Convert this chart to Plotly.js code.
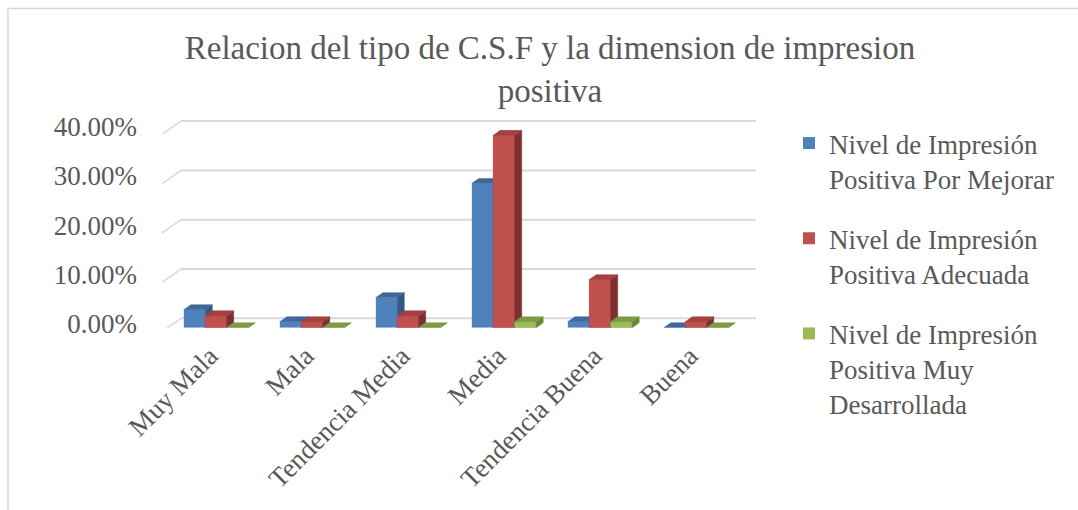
<!DOCTYPE html>
<html>
<head>
<meta charset="utf-8">
<script src="https://cdn.plot.ly/plotly-3.0.1.min.js"></script>
<style>
html,body{margin:0;padding:0;background:#fff;}
#chart{width:1078px;height:510px;}
</style>
</head>
<body>
<div id="chart"></div>
<script>
const categories = ['Muy Mala', 'Mala', 'Tendencia Media', 'Media', 'Tendencia Buena', 'Buena'];
const seriesNames = [
  'Nivel de Impresión<br>Positiva Por Mejorar',
  'Nivel de Impresión<br>Positiva Adecuada',
  'Nivel de Impresión<br>Positiva Muy<br>Desarrollada'
];
const porMejorar = [3.66, 1.22, 6.10, 29.27, 1.22, 0];
const adecuada = [2.44, 1.22, 2.44, 39.02, 9.76, 1.22];
const muyDesarrollada = [0, 0, 0, 1.22, 1.22, 0];
const yTickVals = [0, 10, 20, 30, 40];
const yTickText = ['0.00%', '10.00%', '20.00%', '30.00%', '40.00%'];
const titleText = 'Relacion del tipo de C.S.F y la dimension de impresion<br>positiva';

const series = [porMejorar, adecuada, muyDesarrollada];
const frontColors = ['#4F81BD', '#C0504D', '#9BBB59'];
const topColors = ['#3E6898', '#A3413E', '#7E9A45'];
const sideColors = ['#335883', '#7E302E', '#6A8436'];

const W = 1078, H = 510;
const FONT = '"Liberation Serif", "Times New Roman", serif';
const TXT = '#595959';
const FS = 27;
const bargap = 0.33;
const groupW = 1 - bargap;
const barW = groupW / 3;
const dX = 0.073;   // depth offset in category units
const dY = 1.0;     // depth offset in value units

const traces = [];
series.forEach((vals, j) => {
  traces.push({
    type: 'bar', x: categories, y: vals, name: seriesNames[j],
    legendgroup: 'g' + j,
    marker: {color: frontColors[j]},
    hovertemplate: '%{x}: %{y:.2f}%<extra></extra>'
  });
});

function poly(vals, j, kind) {
  const xs = [], ys = [];
  vals.forEach((v, i) => {
    const xl = i - groupW / 2 + j * barW, xr = xl + barW;
    let px, py;
    if (kind === 'front') { px = [xl, xr, xr, xl, xl]; py = [0, 0, v, v, 0]; }
    else if (kind === 'top') { px = [xl, xr, xr + dX, xl + dX, xl]; py = [v, v, v + dY, v + dY, v]; }
    else { px = [xr, xr + dX, xr + dX, xr, xr]; py = [0, dY, v + dY, v, 0]; }
    xs.push(...px, null); ys.push(...py, null);
  });
  const col = kind === 'front' ? frontColors[j] : (kind === 'top' ? topColors[j] : sideColors[j]);
  return {
    type: 'scatter', mode: 'lines', x: xs, y: ys, xaxis: 'x3', yaxis: 'y',
    fill: 'toself', fillcolor: col, line: {color: col, width: 0.5},
    hoverinfo: 'skip', showlegend: false
  };
}
series.forEach((vals, j) => {
  if (j > 0) traces.push(poly(vals, j, 'front'));
  traces.push(poly(vals, j, 'side'));
  traces.push(poly(vals, j, 'top'));
});

const px = v => v / W;
const shapes = [];
yTickVals.forEach(v => {
  shapes.push({type: 'line', layer: 'below', xref: 'paper', yref: 'y',
    x0: px(181), x1: px(756), y0: v + 1.9, y1: v + 1.9,
    line: {color: '#D9D9D9', width: 2}});
  shapes.push({type: 'line', layer: 'below', xref: 'paper', yref: 'y',
    x0: px(162), x1: px(181), y0: v - 0.8, y1: v + 1.9,
    line: {color: '#D9D9D9', width: 1.5}});
});
// chart border
shapes.push({type: 'path', layer: 'below', xref: 'paper', yref: 'paper',
  path: 'M ' + px(8) + ' 0 L ' + px(8) + ' ' + (1 - 8.5 / H) + ' L 1.01 ' + (1 - 8.5 / H),
  line: {color: '#D9D9D9', width: 1.5}});

const layout = {
  width: W, height: H,
  margin: {l: 0, r: 0, t: 0, b: 0},
  paper_bgcolor: '#fff', plot_bgcolor: 'rgba(0,0,0,0)',
  font: {family: FONT, color: TXT, size: FS},
  title: {text: titleText, font: {family: FONT, size: 33, color: TXT},
    x: 550 / W, xanchor: 'center', xref: 'paper', y: 1 - 59 / H, yanchor: 'top', yref: 'paper'},
  barmode: 'group', bargap: bargap, bargroupgap: 0,
  xaxis: {type: 'category', domain: [px(168), px(744)], range: [-0.5, 5.5],
    tickangle: -45, showgrid: false, zeroline: false, showline: false, ticks: '',
    ticklabelstandoff: 6, ticklabelshift: -6, tickfont: {family: FONT, size: FS, color: TXT}},
  xaxis3: {type: 'linear', overlaying: 'x', anchor: 'y', range: [-0.5, 5.5], visible: false},
  yaxis: {domain: [(H - 327.7) / H, (H - 105.8) / H], range: [0, 45],
    tickvals: yTickVals, ticktext: yTickText, showgrid: false, zeroline: false, showline: false,
    ticks: '', ticklabelshift: -4, ticklabelstandoff: 30,
    tickfont: {family: FONT, size: FS, color: TXT}},
  legend: {x: px(789), xanchor: 'left', y: 1 - 119 / H, yanchor: 'top',
    traceorder: 'grouped', tracegroupgap: 22, valign: 'top',
    font: {family: FONT, size: FS, color: TXT}, bgcolor: 'rgba(0,0,0,0)'},
  shapes: shapes,
  showlegend: true
};

Plotly.newPlot('chart', traces, layout, {displayModeBar: false, staticPlot: true});
</script>
</body>
</html>
